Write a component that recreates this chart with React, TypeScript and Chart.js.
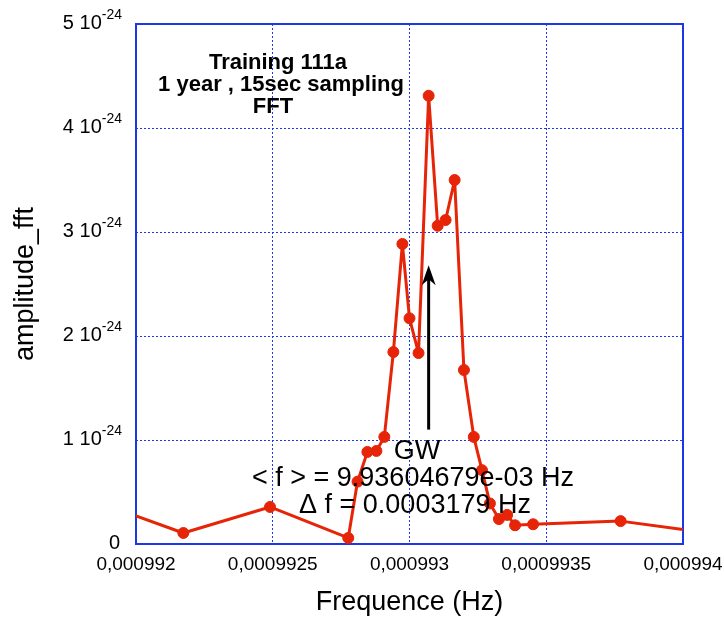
import React, { useEffect, useRef } from "react";
import { Chart, registerables } from "chart.js";

Chart.register(...registerables);

// ---- data ----
const frequencies: number[] = [
  0.000992, 0.000992173, 0.00099249, 0.000992776, 0.00099281, 0.000992846,
  0.000992879, 0.000992908, 0.000992941, 0.000992974, 0.000993, 0.000993033,
  0.00099307, 0.000993103, 0.000993132, 0.000993165, 0.000993199, 0.000993235,
  0.000993265, 0.000993294, 0.000993327, 0.000993357, 0.000993386, 0.000993452,
  0.000993772, 0.000994,
];
const amplitudes: number[] = [
  0.27e-24, 0.106e-24, 0.356e-24, 0.058e-24, 0.6e-24, 0.885e-24,
  0.895e-24, 1.03e-24, 1.846e-24, 2.885e-24, 2.17e-24, 1.836e-24,
  4.31e-24, 3.06e-24, 3.115e-24, 3.5e-24, 1.673e-24, 1.03e-24,
  0.71e-24, 0.39e-24, 0.24e-24, 0.28e-24, 0.18e-24, 0.19e-24,
  0.22e-24, 0.14e-24,
];

const xTickValues: number[] = [0.000992, 0.0009925, 0.000993, 0.0009935, 0.000994];
const xTickLabels: string[] = ["0,000992", "0,0009925", "0,000993", "0,0009935", "0,000994"];
const yTickValues: number[] = [0, 1e-24, 2e-24, 3e-24, 4e-24, 5e-24];
const yTickMantissas: string[] = ["0", "1 10", "2 10", "3 10", "4 10", "5 10"];
const yTickExponent = "-24";

const titleLines: string[] = ["Training 111a", "1 year , 15sec sampling", "FFT"];
const gwLines: string[] = ["GW", "< f > = 9.93604679e-03 Hz", "\u0394 f = 0.0003179 Hz"];
const arrowFreq = 0.00099307;
const arrowFrom = 1.1e-24;
const arrowTo = 2.68e-24;

const FONT = "'Liberation Sans', Arial, Helvetica, sans-serif";
const RED = "rgb(230,36,8)";
const BLUE = "rgb(30,55,230)";

const annotations = {
  id: "annotations",
  beforeDatasetsDraw(chart: any) {
    const { ctx, chartArea } = chart;
    ctx.save();
    ctx.strokeStyle = BLUE;
    ctx.lineWidth = 2;
    ctx.strokeRect(chartArea.left, chartArea.top, chartArea.right - chartArea.left, chartArea.bottom - chartArea.top);
    ctx.restore();
  },
  afterDraw(chart: any) {
    const { ctx, chartArea, scales } = chart;
    const ys = scales.y;
    const xs = scales.x;
    ctx.save();
    // y tick labels with superscript exponent
    const rightEdge = chartArea.left - 14;
    ctx.fillStyle = "#000";
    ctx.textBaseline = "alphabetic";
    yTickValues.forEach((v, i) => {
      const py = ys.getPixelForValue(v);
      if (v === 0) {
        ctx.font = `20px ${FONT}`;
        ctx.textAlign = "right";
        ctx.fillText(yTickMantissas[i], rightEdge - 2, py + 5);
      } else {
        ctx.font = `14px ${FONT}`;
        const w = ctx.measureText(yTickExponent).width;
        ctx.textAlign = "left";
        ctx.fillText(yTickExponent, rightEdge - w, py - 5);
        ctx.font = `20px ${FONT}`;
        ctx.textAlign = "right";
        ctx.fillText(yTickMantissas[i], rightEdge - w, py + 5);
      }
    });

    // title block
    ctx.font = `bold 22px ${FONT}`;
    ctx.textAlign = "center";
    ctx.textBaseline = "middle";
    const titleX = [142, 145, 137];
    titleLines.forEach((t, i) => {
      ctx.fillText(t, chartArea.left + titleX[i], chartArea.top + 39 + i * 22);
    });

    // arrow
    const ax = xs.getPixelForValue(arrowFreq);
    const y0 = ys.getPixelForValue(arrowFrom);
    const y1 = ys.getPixelForValue(arrowTo);
    ctx.strokeStyle = "#000";
    ctx.lineWidth = 3;
    ctx.beginPath();
    ctx.moveTo(ax, y0);
    ctx.lineTo(ax, y1 + 12);
    ctx.stroke();
    ctx.beginPath();
    ctx.moveTo(ax, y1);
    ctx.lineTo(ax - 7, y1 + 20);
    ctx.lineTo(ax, y1 + 14);
    ctx.lineTo(ax + 7, y1 + 20);
    ctx.closePath();
    ctx.fill();

    // GW text
    ctx.font = `27px ${FONT}`;
    const gwX = [281, 277, 279];
    gwLines.forEach((t, i) => {
      ctx.fillText(t, chartArea.left + gwX[i], chartArea.top + 428 + i * 27);
    });
    ctx.restore();
  },
};

export default function App() {
  const canvasRef = useRef<HTMLCanvasElement | null>(null);

  useEffect(() => {
    if (!canvasRef.current) return;
    const last = frequencies.length - 1;
    const chart = new Chart(canvasRef.current, {
      type: "line",
      data: {
        datasets: [
          {
            data: frequencies.map((f, i) => ({ x: f, y: amplitudes[i] })),
            borderColor: RED,
            backgroundColor: RED,
            borderWidth: 3,
            borderJoinStyle: "round",
            borderCapStyle: "round",
            pointRadius: (c: any) => (c.dataIndex === 0 || c.dataIndex === last ? 0 : 5.5),
            pointBorderWidth: 1,
            pointBackgroundColor: RED,
            pointBorderColor: RED,
            tension: 0,
          },
        ],
      },
      options: {
        animation: false,
        responsive: true,
        maintainAspectRatio: false,
        layout: { padding: { left: 0, top: 24, right: 41, bottom: 0 } },
        plugins: { legend: { display: false }, tooltip: { enabled: false }, title: { display: false } },
        scales: {
          x: {
            type: "linear",
            min: 0.000992,
            max: 0.000994,
            afterBuildTicks: (s: any) => {
              s.ticks = xTickValues.map((v) => ({ value: v }));
            },
            afterFit: (s: any) => {
              s.height = 77;
              s.paddingLeft = 0;
              s.paddingRight = 0;
            },
            ticks: {
              autoSkip: false,
              maxRotation: 0,
              padding: 9,
              color: "#000",
              font: { family: FONT, size: 19 },
              callback: (_v: any, i: number) => xTickLabels[i],
            },
            grid: { color: BLUE, lineWidth: 1, drawTicks: false },
            border: { display: false, dash: [2, 2] },
            title: {
              display: true,
              text: "Frequence (Hz)",
              color: "#000",
              font: { family: FONT, size: 27, lineHeight: 1 },
              padding: { top: 0, bottom: 5 },
            },
          },
          y: {
            type: "linear",
            min: 0,
            max: 5e-24,
            afterBuildTicks: (s: any) => {
              s.ticks = yTickValues.map((v) => ({ value: v }));
            },
            afterFit: (s: any) => {
              s.width = 136;
              s.paddingTop = 0;
              s.paddingBottom = 0;
            },
            ticks: { display: false },
            grid: { color: BLUE, lineWidth: 1, drawTicks: false },
            border: { display: false, dash: [2, 2] },
            title: {
              display: true,
              text: "amplitude_fft",
              color: "#000",
              font: { family: FONT, size: 27, lineHeight: 1 },
              padding: { top: 12, bottom: 0 },
            },
          },
        },
      },
      plugins: [annotations],
    } as any);
    return () => chart.destroy();
  }, []);

  return (
    <div style={{ position: "fixed", left: 0, top: 0, width: 724, height: 621, background: "#fff" }}>
      <canvas ref={canvasRef} />
    </div>
  );
}
